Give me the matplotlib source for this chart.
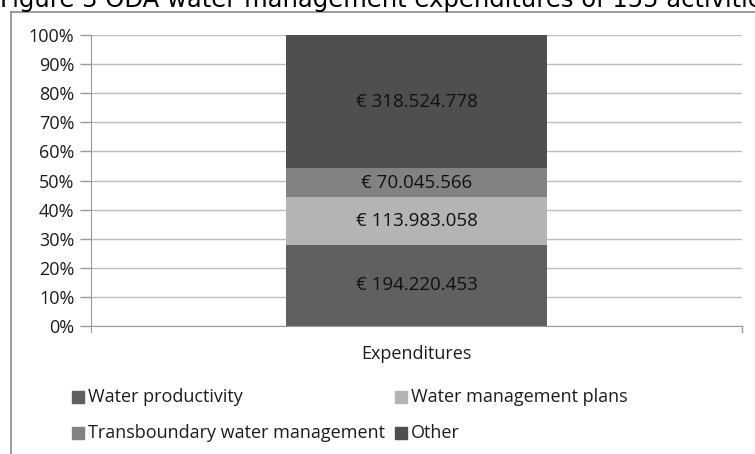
import matplotlib.pyplot as plt
from matplotlib.patches import Rectangle

categories = ["Expenditures"]
series = ["Water productivity", "Water management plans",
          "Transboundary water management", "Other"]
values = [194220453, 113983058, 70045566, 318524778]
colors = ["#606060", "#b4b4b4", "#828282", "#4f4f4f"]
yticks = [0, 10, 20, 30, 40, 50, 60, 70, 80, 90, 100]

W, H = 755, 454
fig = plt.figure(figsize=(W / 100, H / 100), dpi=100)
font = "Open Sans"
txt = "#1c1c1c"

# outer chart frame (top and left edges visible)
fig.add_artist(plt.Line2D([11 / W, 11 / W], [0, 1 - 12 / H], transform=fig.transFigure,
                          color="#8c8c8c", lw=1.2))
fig.add_artist(plt.Line2D([11 / W, 1], [1 - 12 / H, 1 - 12 / H], transform=fig.transFigure,
                          color="#8c8c8c", lw=1.2))

# caption above the chart, cut off by the top of the picture as in the source
fig.text(0, 1 - 7.5 / H, "Figure 3 ODA water management expenditures of 155 activities",
         fontsize=17.5, family="DejaVu Sans", va="baseline", ha="left", color="#000000")

ax = fig.add_axes([91 / W, (H - 326) / H, (742 - 91) / W, (326 - 35) / H])

total = sum(values)
bottom = 0
for name, v, c in zip(series, values, colors):
    pct = v / total * 100
    ax.bar(0, pct, width=0.4, bottom=bottom, color=c, label=name, zorder=3)
    ax.text(0, bottom + pct / 2, "€ " + f"{v:,}".replace(",", "."), ha="center", va="center",
            fontsize=13.5, family=font, color="#111111", zorder=4)
    bottom += pct

ax.set_xlim(-0.5, 0.5)
ax.set_ylim(0, 100)
ax.set_yticks(yticks)
ax.set_yticklabels([f"{t}%" for t in yticks], family=font, fontsize=13, color=txt)
ax.set_xticks([0])
ax.set_xticklabels(categories, family=font, fontsize=13, color=txt)
ax.tick_params(axis="x", length=0, pad=14)
ax.tick_params(axis="y", length=8, width=1, color="#9a9a9a", pad=4)
ax.grid(axis="y", color="#bdbdbd", lw=1, zorder=0)
for s in ["top", "right"]:
    ax.spines[s].set_visible(False)
for s in ["left", "bottom"]:
    ax.spines[s].set_color("#9a9a9a")
ax.spines["bottom"].set_bounds(-0.5, 0.5)
ax.spines["left"].set_bounds(-2, 100)
ax.plot([0.5, 0.5], [0, -2], color="#9a9a9a", lw=1, clip_on=False)

# legend, two columns
cols = [72, 395]
rows = [397, 433]
for i, (name, c) in enumerate(zip(series, colors)):
    x = cols[i % 2]
    y = rows[i // 2]
    fig.add_artist(Rectangle((x / W, (H - y - 6) / H), 12 / W, 12 / H,
                             transform=fig.transFigure, color=c))
    fig.text((x + 16) / W, (H - y) / H, name, family=font, fontsize=13,
             va="center", ha="left", color=txt)

fig.savefig("out.png", dpi=100)
